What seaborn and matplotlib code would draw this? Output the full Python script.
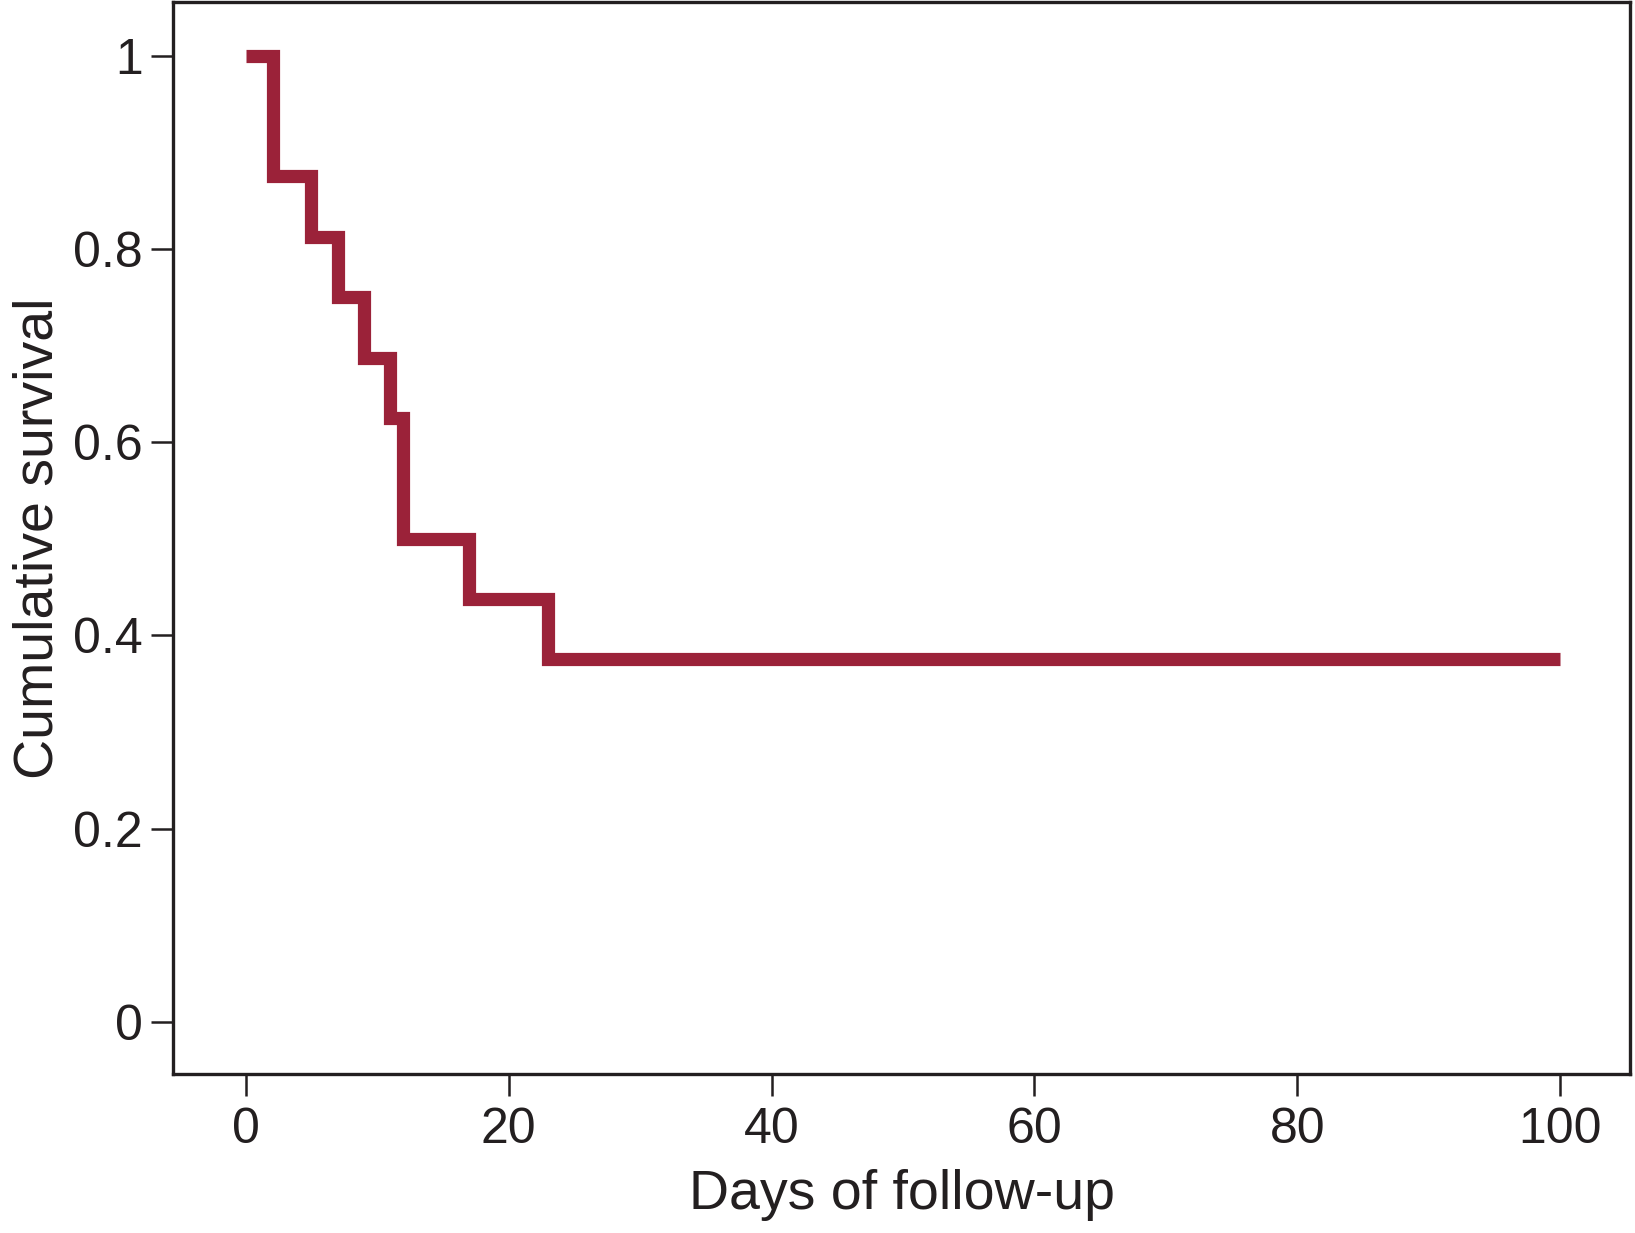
import matplotlib
matplotlib.use("Agg")
import pandas as pd
import matplotlib.pyplot as plt
import seaborn as sns

# ============ Kaplan-Meier step values ============
days = [0, 2.1, 5, 7, 9, 11, 12, 17, 23, 100]
survival = [1, 0.875, 0.8125, 0.75, 0.6875, 0.625, 0.5, 0.4375, 0.375, 0.375]
x_ticks = [0, 20, 40, 60, 80, 100]
y_ticks = [0, 0.2, 0.4, 0.6, 0.8, 1]
y_labels = ["0", "0.2", "0.4", "0.6", "0.8", "1"]

sns.set_style("ticks")
plt.rcParams["font.family"] = ["Liberation Sans", "DejaVu Sans"]

df = pd.DataFrame({"days": days, "survival": survival})

fig, ax = plt.subplots(figsize=(16.35, 12.33), dpi=100)
fig.subplots_adjust(left=0.106, right=0.997, top=0.998, bottom=0.129)

sns.lineplot(data=df, x="days", y="survival", ax=ax, color="#9b2239",
             linewidth=9.5, drawstyle="steps-post", sort=False,
             solid_capstyle="butt", solid_joinstyle="miter")

ax.set_xlim(-5.5, 105.3)
ax.set_ylim(-0.054, 1.055)
ax.set_xticks(x_ticks)
ax.set_yticks(y_ticks)
ax.set_yticklabels(y_labels)
ax.tick_params(direction="out", length=16, width=1.8, labelsize=36,
               colors="#231f20")
ax.tick_params(axis="x", pad=8)
ax.tick_params(axis="y", pad=6)
for s in ax.spines.values():
    s.set_visible(True)
    s.set_linewidth(2.4)
    s.set_color("#231f20")

ax.set_xlabel("Days of follow-up", fontsize=40, color="#231f20", labelpad=11)
ax.set_ylabel("Cumulative survival", fontsize=40, color="#231f20", labelpad=6)

fig.savefig("out.png", dpi=100)
